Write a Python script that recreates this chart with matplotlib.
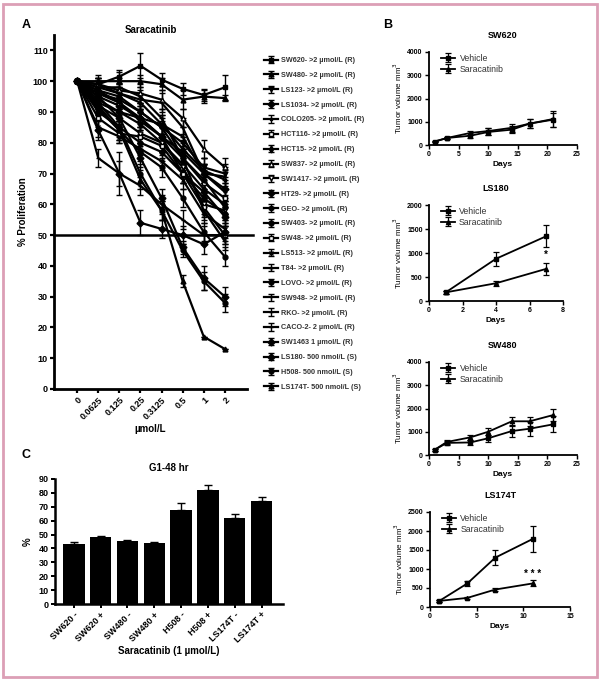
import numpy as np
import matplotlib
matplotlib.use('Agg')
import matplotlib.pyplot as plt
from matplotlib.patches import Rectangle

plt.rcParams['font.family'] = ['Liberation Sans', 'DejaVu Sans']

# ── Panel A : in vitro proliferation ─────────────────────────────────────────
conc_labels = ['0', '0.0625', '0.125', '0.25', '0.3125', '0.5', '1', '2']

cell_lines = [
    'SW620- >2 µmol/L (R)', 'SW480- >2 µmol/L (R)', 'LS123- >2 µmol/L (R)',
    'LS1034- >2 µmol/L (R)', 'COLO205- >2 µmol/L (R)', 'HCT116- >2 µmol/L (R)',
    'HCT15- >2 µmol/L (R)', 'SW837- >2 µmol/L (R)', 'SW1417- >2 µmol/L (R)',
    'HT29- >2 µmol/L (R)', 'GEO- >2 µmol/L (R)', 'SW403- >2 µmol/L (R)',
    'SW48- >2 µmol/L (R)', 'LS513- >2 µmol/L (R)', 'T84- >2 µmol/L (R)',
    'LOVO- >2 µmol/L (R)', 'SW948- >2 µmol/L (R)', 'RKO- >2 µmol/L (R)',
    'CACO-2- 2 µmol/L (R)', 'SW1463 1 µmol/L (R)', 'LS180- 500 nmol/L (S)',
    'H508- 500 nmol/L (S)', 'LS174T- 500 nmol/L (S)',
]

prolif = [
    [100, 99, 101.5, 105, 100.5, 97.5, 95.5, 98],
    [100, 100, 100, 100, 99, 94, 95, 94.5],
    [100, 97, 95, 90, 85, 80, 72, 70],
    [100, 95, 92, 88, 82, 77, 70, 65],
    [100, 98, 96, 93, 86, 78, 71, 68],
    [100, 96, 93, 87, 82, 75, 67, 62],
    [100, 93, 90, 86, 80, 73, 65, 60],
    [100, 99, 97, 96, 94, 88, 78, 72],
    [100, 92, 88, 83, 80, 72, 60, 58],
    [100, 94, 90, 88, 82, 70, 64, 56],
    [100, 96, 94, 90, 85, 75, 68, 59],
    [100, 90, 85, 80, 77, 70, 62, 57],
    [100, 88, 83, 82, 79, 70, 59, 50],
    [100, 85, 82, 78, 74, 68, 57, 52],
    [100, 97, 93, 88, 86, 82, 70, 64],
    [100, 91, 84, 77, 72, 62, 51, 43],
    [100, 99, 96, 94, 93, 85, 70, 69],
    [100, 98, 98, 95, 88, 75, 58, 48],
    [100, 75, 70, 66, 60, 55, 50, 50],
    [100, 84, 70, 54, 52, 50, 47, 51],
    [100, 95, 88, 75, 62, 46, 36, 30],
    [100, 93, 85, 70, 58, 45, 35, 28],
    [100, 92, 84, 68, 58, 35, 17, 13],
]

prolif_err = [
    [0, 2, 2, 4, 2, 2, 2, 4],
    [0, 2, 3, 2, 2, 3, 2, 1],
    [0, 3, 3, 3, 2, 3, 3, 3],
    [0, 2, 3, 4, 3, 3, 3, 3],
    [0, 3, 2, 3, 3, 3, 4, 3],
    [0, 2, 3, 3, 3, 3, 3, 3],
    [0, 3, 3, 4, 3, 3, 3, 3],
    [0, 2, 2, 3, 3, 3, 3, 3],
    [0, 3, 3, 3, 3, 3, 3, 3],
    [0, 2, 3, 3, 3, 3, 3, 3],
    [0, 2, 3, 3, 3, 3, 3, 2],
    [0, 3, 2, 3, 3, 3, 3, 3],
    [0, 3, 3, 3, 3, 3, 3, 3],
    [0, 3, 2, 2, 3, 3, 3, 3],
    [0, 2, 3, 3, 3, 3, 3, 3],
    [0, 3, 3, 3, 3, 3, 3, 3],
    [0, 2, 3, 3, 3, 3, 3, 3],
    [0, 2, 3, 3, 3, 3, 3, 3],
    [0, 3, 4, 3, 3, 3, 3, 3],
    [0, 3, 7, 4, 3, 3, 3, 3],
    [0, 3, 3, 3, 3, 2, 4, 3],
    [0, 3, 3, 3, 3, 2, 3, 3],
    [0, 3, 3, 3, 3, 2, 0, 0],
]

line_markers = ['s', '^', 'v', 'D', '.', 's', 'd', '^', 'v', 'D', 'h', 'o',
                's', 'x', '+', 'o', '|', '_', '_', 'D', 'D', 'o', '^']
marker_open = [False, False, False, False, False, True, False, True, True,
               False, False, False, True, False, False, False, False, False,
               False, False, False, False, False]

# ── Panel B : xenografts ──────────────────────────────────────────────────────
sw620_days = [1, 3, 7, 10, 14, 17, 21]
sw620_vehicle = [150, 300, 400, 560, 660, 920, 1090]
sw620_vehicle_err = [40, 60, 120, 150, 150, 200, 300]
sw620_sara = [150, 300, 520, 600, 740, 920, 1120]
sw620_sara_err = [40, 60, 100, 150, 180, 200, 330]

ls180_days = [1, 4, 7]
ls180_vehicle = [180, 880, 1350]
ls180_vehicle_err = [30, 150, 230]
ls180_sara = [180, 370, 670]
ls180_sara_err = [30, 50, 120]

sw480_days = [1, 3, 7, 10, 14, 17, 21]
sw480_vehicle = [230, 520, 540, 720, 1030, 1130, 1320]
sw480_vehicle_err = [40, 80, 120, 150, 250, 300, 350]
sw480_sara = [230, 560, 760, 1000, 1450, 1450, 1720]
sw480_sara_err = [40, 80, 120, 150, 200, 200, 250]

ls174t_days = [1, 4, 7, 11]
ls174t_vehicle = [160, 620, 1300, 1790]
ls174t_vehicle_err = [30, 60, 200, 330]
ls174t_sara = [160, 240, 460, 620]
ls174t_sara_err = [30, 30, 40, 80]

# ── Panel C : G1 fraction ─────────────────────────────────────────────────────
g1_labels = ['SW620 -', 'SW620 +', 'SW480 -', 'SW480 +', 'H508 -', 'H508 +',
             'LS174T -', 'LS174T +']
g1_values = [43.5, 48, 45.5, 44, 68, 82, 62, 74]
g1_err = [1, 1, 0.8, 0.8, 5, 3.5, 3, 3]


W, H = 601, 681
fig = plt.figure(figsize=(W / 100, H / 100), dpi=100)


def frac(left, top, right, bottom):
    return [left / W, 1 - bottom / H, (right - left) / W, (bottom - top) / H]


def style_axes(ax, lw=1.5, tick_size=6):
    for s in ['top', 'right']:
        ax.spines[s].set_visible(False)
    for s in ['left', 'bottom']:
        ax.spines[s].set_linewidth(lw)
    ax.tick_params(width=lw * 0.8, length=3, labelsize=tick_size, pad=1.5)
    for lab in ax.get_xticklabels() + ax.get_yticklabels():
        lab.set_fontweight('bold')


# Panel A
axA = fig.add_axes(frac(54, 35, 247, 389))
x = np.arange(len(conc_labels))
handles = []
for i, (vals, errs) in enumerate(zip(prolif, prolif_err)):
    mfc = 'white' if marker_open[i] else 'black'
    h = axA.errorbar(x, vals, yerr=errs, color='black', lw=1.6,
                     marker=line_markers[i], ms=3.5, mfc=mfc, mec='black',
                     mew=1.0, capsize=2, elinewidth=1, capthick=1,
                     label=cell_lines[i])
    handles.append(h)
axA.axhline(50, color='black', lw=1.8, xmax=1.03, clip_on=False)
axA.set_xlim(-1.1, 8.05)
axA.set_ylim(0, 115)
axA.set_yticks(np.arange(0, 111, 10))
axA.set_xticks(x)
axA.set_xticklabels(conc_labels, rotation=45, ha='right',
                    rotation_mode='anchor')
style_axes(axA, lw=2, tick_size=6.5)
axA.set_ylabel('% Proliferation', fontsize=7, fontweight='bold', labelpad=3)
axA.set_xlabel('µmol/L', fontsize=7, fontweight='bold', labelpad=2)
axA.set_title('Saracatinib', fontsize=7, fontweight='bold', pad=1)
leg = axA.legend(handles=handles, loc='upper left',
                 bbox_to_anchor=(264 / W, 1 - 57 / H),
                 bbox_transform=fig.transFigure, frameon=False,
                 fontsize=5.2, handlelength=2.0, handletextpad=0.35,
                 labelspacing=1.08, borderaxespad=0, borderpad=0)
for t in leg.get_texts():
    t.set_fontweight('bold')
    t.set_color('#333333')


# Panel B
def xeno(box, title, days, veh, veh_err, sara, sara_err, xlim, xticks,
         ylim, yticks, star=None):
    ax = fig.add_axes(frac(*box))
    ax.errorbar(days, veh, yerr=veh_err, color='black', lw=1.3, marker='s',
                ms=3, capsize=2, elinewidth=0.9, capthick=0.9, label='Vehicle')
    ax.errorbar(days, sara, yerr=sara_err, color='black', lw=1.3, marker='^',
                ms=3, capsize=2, elinewidth=0.9, capthick=0.9,
                label='Saracatinib')
    ax.set_xlim(*xlim)
    ax.set_ylim(*ylim)
    ax.set_xticks(xticks)
    ax.set_yticks(yticks)
    style_axes(ax, lw=1.3, tick_size=5)
    ax.set_title(title, fontsize=6.5, fontweight='bold', pad=10)
    ax.set_xlabel('Days', fontsize=6, fontweight='bold', labelpad=2)
    ax.set_ylabel('Tumor volume mm$^3$', fontsize=5.8, labelpad=2)
    lg = ax.legend(loc='upper left', bbox_to_anchor=(0.06, 1.02), frameon=False,
                   fontsize=6.3, handlelength=1.6, handletextpad=0.5,
                   labelspacing=0.25, borderaxespad=0)
    for t in lg.get_texts():
        t.set_color('#333333')
    if star is not None:
        ax.text(star[0], star[1], star[2], ha='center', va='center',
                fontsize=7, fontweight='bold')
    return ax


xeno((429, 52, 577, 145), 'SW620', sw620_days, sw620_vehicle,
     sw620_vehicle_err, sw620_sara, sw620_sara_err, (0, 25),
     [0, 5, 10, 15, 20, 25], (0, 4000), [0, 1000, 2000, 3000, 4000])
xeno((429, 205, 563, 301), 'LS180', ls180_days, ls180_vehicle,
     ls180_vehicle_err, ls180_sara, ls180_sara_err, (0, 8), [0, 2, 4, 6, 8],
     (0, 2000), [0, 500, 1000, 1500, 2000], star=(7, 960, '*'))
xeno((429, 362, 577, 455), 'SW480', sw480_days, sw480_vehicle,
     sw480_vehicle_err, sw480_sara, sw480_sara_err, (0, 25),
     [0, 5, 10, 15, 20, 25], (0, 4000), [0, 1000, 2000, 3000, 4000])
xeno((430, 512, 570, 607), 'LS174T', ls174t_days, ls174t_vehicle,
     ls174t_vehicle_err, ls174t_sara, ls174t_sara_err, (0, 15), [0, 5, 10, 15],
     (0, 2500), [0, 500, 1000, 1500, 2000, 2500], star=(11, 870, '* * *'))

# Panel C
axC = fig.add_axes(frac(55, 479, 283, 604))
xc = np.arange(len(g1_labels))
axC.bar(xc, g1_values, width=0.8, color='black')
axC.errorbar(xc, g1_values, yerr=[np.zeros(len(g1_err)), g1_err], fmt='none',
             ecolor='black', elinewidth=1, capsize=3, capthick=1)
axC.set_xlim(-0.7, 7.8)
axC.set_ylim(0, 90)
axC.set_yticks(np.arange(0, 91, 10))
axC.set_xticks(xc)
axC.set_xticklabels(g1_labels, rotation=45, ha='right', rotation_mode='anchor')
style_axes(axC, lw=1.8, tick_size=6.5)
axC.set_ylabel('%', fontsize=7, fontweight='bold', labelpad=4)
axC.set_xlabel('Saracatinib (1 µmol/L)', fontsize=7, fontweight='bold',
               labelpad=1)
axC.set_title('G1-48 hr', fontsize=7, fontweight='bold', pad=6)

# panel letters and border
fig.text(22 / W, 1 - 25 / H, 'A', fontsize=9, fontweight='bold', va='center')
fig.text(383 / W, 1 - 25 / H, 'B', fontsize=9, fontweight='bold', va='center')
fig.text(22 / W, 1 - 455 / H, 'C', fontsize=9, fontweight='bold', va='center')
fig.patches.append(Rectangle((3 / W, 4 / H), 594 / W, 673 / H,
                             transform=fig.transFigure, fill=False,
                             edgecolor='#dc9fb6', lw=2))

fig.savefig('out.png', dpi=100)
